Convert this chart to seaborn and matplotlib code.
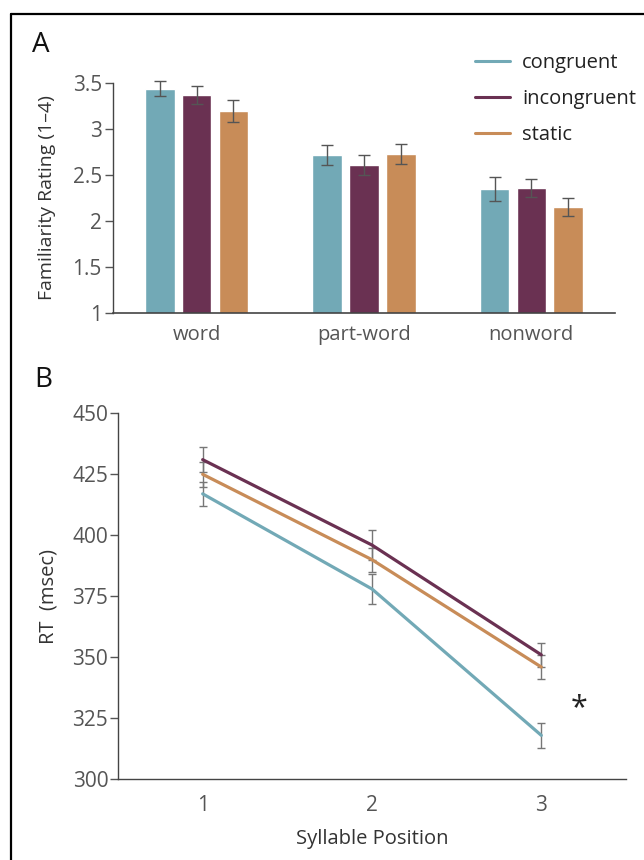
import matplotlib
matplotlib.use("Agg")
import matplotlib.pyplot as plt
import seaborn as sns
import pandas as pd
from matplotlib.lines import Line2D

sns.set_theme(style="white")
plt.rcParams['font.family'] = ['Open Sans', 'DejaVu Sans']

# ---------------- data ----------------
conditions = ["congruent", "incongruent", "static"]
colors = ["#72a9b6", "#6a3152", "#c88c58"]

categories = ["word", "part-word", "nonword"]
rating_congruent = [3.44, 2.72, 2.35]
rating_incongruent = [3.37, 2.61, 2.36]
rating_static = [3.20, 2.73, 2.15]
rating_err_congruent = [0.08, 0.11, 0.13]
rating_err_incongruent = [0.10, 0.11, 0.10]
rating_err_static = [0.12, 0.11, 0.10]

positions = [1, 2, 3]
rt_congruent = [417, 378, 318]
rt_incongruent = [431, 396, 351]
rt_static = [425, 390, 346]
rt_err_congruent = [5, 6, 5]
rt_err_incongruent = [5, 6, 5]
rt_err_static = [5, 5, 5]

ratings = [rating_congruent, rating_incongruent, rating_static]
rating_errs = [rating_err_congruent, rating_err_incongruent, rating_err_static]
rts = [rt_congruent, rt_incongruent, rt_static]
rt_errs = [rt_err_congruent, rt_err_incongruent, rt_err_static]

dfA = pd.DataFrame([
    {"category": c, "condition": cond, "rating": ratings[i][j], "err": rating_errs[i][j]}
    for i, cond in enumerate(conditions) for j, c in enumerate(categories)
])
dfB = pd.DataFrame([
    {"position": p, "condition": cond, "rt": rts[i][j], "err": rt_errs[i][j]}
    for i, cond in enumerate(conditions) for j, p in enumerate(positions)
])

W, H = 644, 860
fig = plt.figure(figsize=(W / 100, H / 100), dpi=100)

tick_color = "#555555"
label_color = "#333333"
err_color = "#555555"
LAB = 14.5
TICK = 15

# ---------------- Panel A ----------------
axA = fig.add_axes([113 / W, 1 - 312.7 / H, 502 / W, 238.6 / H])
sns.barplot(data=dfA, x="category", y="rating", hue="condition",
            order=categories, hue_order=conditions, palette=colors,
            width=0.66, gap=0.2, errorbar=None, ax=axA, legend=False,
            saturation=1)
for cont, cond, errs in zip(axA.containers, conditions, rating_errs):
    xs = [b.get_x() + b.get_width() / 2 for b in cont]
    ys = [b.get_height() for b in cont]
    axA.errorbar(xs, ys, yerr=errs, fmt="none", ecolor=err_color,
                 elinewidth=1.0, capsize=4, capthick=1.0, zorder=5)
axA.set_ylim(1, 3.6)
axA.set_xlim(-0.5, 2.5)
axA.set_yticks([1, 1.5, 2, 2.5, 3, 3.5])
axA.set_yticklabels(["1", "1.5", "2", "2.5", "3", "3.5"])
axA.set_xlabel("")
axA.set_ylabel("Familiarity Rating (1\u20134)", fontsize=14, color=label_color)
axA.yaxis.set_label_coords(-0.1135, 0.5 * 2.5 / 2.6 + 0.0)
for s in ["top", "right"]:
    axA.spines[s].set_visible(False)
axA.spines["left"].set_bounds(1, 3.5)
axA.spines["left"].set_color("#444444")
axA.spines["left"].set_linewidth(1.0)
axA.spines["bottom"].set_color("#444444")
axA.spines["bottom"].set_linewidth(1.2)
axA.tick_params(axis="y", left=True, length=6, width=1, color=tick_color,
                labelsize=TICK, labelcolor=tick_color, pad=2)
axA.tick_params(axis="x", bottom=False, labelsize=LAB, labelcolor=tick_color, pad=3)

handles = [Line2D([], [], color=c, lw=2.2) for c in colors]
fig.legend(handles, conditions, loc="upper left",
           bbox_to_anchor=(475 / W, 1 - 53 / H), frameon=False,
           borderpad=0, borderaxespad=0,
           fontsize=LAB, handlelength=1.75, handletextpad=0.6,
           labelspacing=0.8, labelcolor="#222222")

# ---------------- Panel B ----------------
axB = fig.add_axes([118 / W, 1 - 779.3 / H, 508 / W, 366 / H])
sns.lineplot(data=dfB, x="position", y="rt", hue="condition",
             hue_order=conditions, palette=colors, linewidth=2.3,
             ax=axB, legend=False, errorbar=None)
for cond, errs, vals in zip(conditions, rt_errs, rts):
    axB.errorbar(positions, vals, yerr=errs, fmt="none", ecolor="#777777",
                 elinewidth=1.0, capsize=3, capthick=1.0, zorder=1)
axB.set_xlim(0.5, 3.5)
axB.set_ylim(300, 450)
axB.set_xticks(positions)
axB.set_xticklabels([str(p) for p in positions])
axB.set_yticks([300, 325, 350, 375, 400, 425, 450])
axB.set_xlabel("Syllable Position", fontsize=LAB, color=label_color, labelpad=10)
axB.set_ylabel("RT  (msec)", fontsize=LAB, color=label_color)
axB.yaxis.set_label_coords(-0.118, 0.5)
for s in ["top", "right"]:
    axB.spines[s].set_visible(False)
for s in ["left", "bottom"]:
    axB.spines[s].set_color("#444444")
    axB.spines[s].set_linewidth(1.0)
axB.tick_params(axis="y", left=True, length=6, width=1, color=tick_color,
                labelsize=TICK, labelcolor=tick_color, pad=1)
axB.tick_params(axis="x", bottom=False, labelsize=TICK, labelcolor=tick_color, pad=5)
axB.text(3.22, 329, "*", fontsize=22, ha="center", va="center", color="#222222")

# panel letters
fig.text(41 / W, 1 - 45 / H, "A", fontsize=20, ha="center", va="center", color="#111111")
fig.text(43 / W, 1 - 380 / H, "B", fontsize=20, ha="center", va="center", color="#111111")

# frame border (left + top)
fig.add_artist(Line2D([11 / W, 11 / W], [0, 1 - 14 / H], transform=fig.transFigure,
                      color="black", lw=1.6))
fig.add_artist(Line2D([11 / W, 1], [1 - 14 / H, 1 - 14 / H], transform=fig.transFigure,
                      color="black", lw=1.6))

fig.savefig("out.png", dpi=100)
